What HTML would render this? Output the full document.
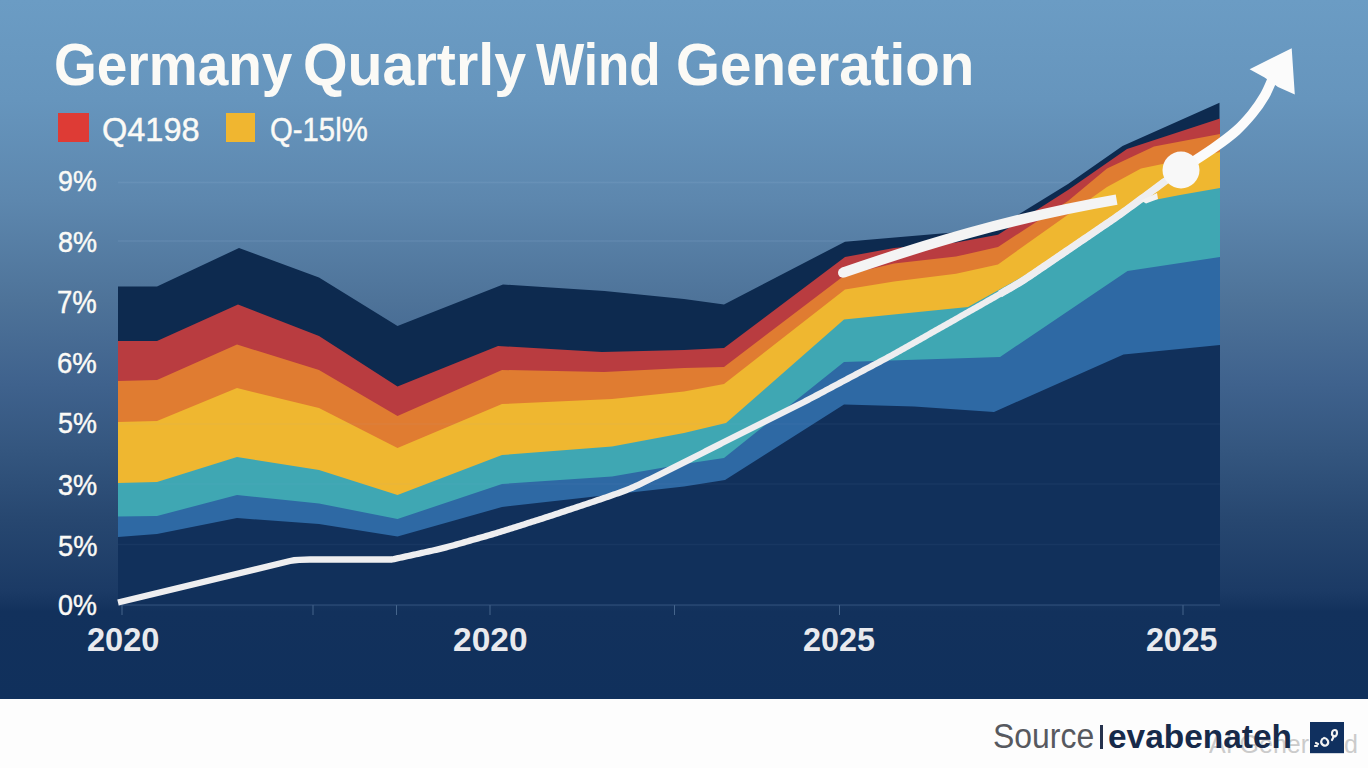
<!DOCTYPE html>
<html><head><meta charset="utf-8">
<style>
html,body{margin:0;padding:0;}
body{width:1368px;height:768px;overflow:hidden;position:relative;background:#fdfdfd;font-family:"Liberation Sans",sans-serif;}
#bg{position:absolute;left:0;top:0;width:1368px;height:699px;background:linear-gradient(to bottom,#6b9cc4 0px,#6695bd 100px,#5d87ae 200px,#4e7399 300px,#3f628d 384px,#34567f 450px,#274770 520px,#1b3a65 592px,#12315c 612px,#10305c 699px);}
svg{position:absolute;left:0;top:0;}
.t{position:absolute;white-space:nowrap;line-height:1;transform-origin:0 0;}
</style></head><body>
<div id="bg"></div>
<svg width="1368" height="768" viewBox="0 0 1368 768">
<g stroke="#a9c6e4" stroke-opacity="0.12" stroke-width="1.3"><line x1="118" y1="182.5" x2="1220" y2="182.5"/><line x1="118" y1="241" x2="1220" y2="241"/></g>
<polygon fill="#0d2a4f" points="118,286.5 157,286.5 239,248 319,277.5 397.5,326 503,284.5 604.5,291 684,299 724,304.5 845,241.7 956,232.3 1000,226 1068,184 1122.5,146 1219.5,102.8 1220,605 118,605"/>
<polygon fill="#b93c40" points="118,341 157,341 238,304.5 319,336 397.5,386.5 498,346 602,352 684,350 724,348 845,257 894,248 956,242.5 998,234.7 1068,190 1127,149 1220,118.4 1220,605 118,605"/>
<polygon fill="#e07c31" points="118,381 157,380 237,344.5 319,370 397.5,416 502,370 604,372 684,368 724,367 845,275 894,263.6 956,256.6 998,247 1068,201 1107,168.4 1154,146.6 1220,134 1220,605 118,605"/>
<polygon fill="#efb730" points="118,422 157,421 237,388 319,408 397.5,448 502,404 612,399 684,391.5 724,384 845,289.4 894,281.6 956,273.75 998,264.4 1107,187 1141,168.4 1220,152 1220,605 118,605"/>
<polygon fill="#3fa7b3" points="118,483 157,482 237,457 319,470 397.5,495 502,455 612,446.5 684,433 726,423 844,319.5 968,307 1040,267 1127,207 1140,202.8 1180,195 1220,188 1220,605 118,605"/>
<polygon fill="#2e69a4" points="118,516.5 157,516 237,495 319,503.5 397.5,519 502,484 612,476.5 684,464 724,458 844,362 1000,357 1127.5,271 1220,257 1220,605 118,605"/>
<polygon fill="#11305b" points="118,537 157,534 237,518 319,524 397.5,536.5 502,507 684,486.5 725,480 844,404.5 914,406.5 994,412 1123.5,354.5 1220,345 1220,605 118,605"/>
<g stroke="#9ab8d8" stroke-opacity="0.055" stroke-width="1.3"><line x1="118" y1="424" x2="1220" y2="424"/><line x1="118" y1="484" x2="1220" y2="484"/><line x1="118" y1="544.5" x2="1220" y2="544.5"/></g>
<g stroke="#6f8fb5" stroke-opacity="0.55" stroke-width="1"><line x1="122" y1="605" x2="122" y2="615"/><line x1="313" y1="605" x2="313" y2="615"/><line x1="396.5" y1="605" x2="396.5" y2="615"/><line x1="490" y1="605" x2="490" y2="615"/><line x1="674.5" y1="605" x2="674.5" y2="615"/><line x1="839.5" y1="605" x2="839.5" y2="615"/><line x1="1183" y1="605" x2="1183" y2="615"/></g>
<line x1="118" y1="605" x2="1220" y2="605" stroke="#3d5d88" stroke-opacity="0.8" stroke-width="1.2"/>
<path d="M118,602.5 L290,561 Q298,559.5 310,559.5 L392,559.5 L392,559.50 L394,559.06 L396,558.62 L398,558.18 L400,557.75 L402,557.31 L404,556.87 L406,556.43 L408,555.99 L410,555.55 L412,555.11 L414,554.67 L416,554.24 L418,553.80 L420,553.36 L422,552.92 L424,552.48 L426,552.04 L428,551.60 L430,551.16 L432,550.71 L434,550.26 L436,549.81 L438,549.34 L440,548.86 L442,548.37 L444,547.87 L446,547.35 L448,546.82 L450,546.27 L452,545.72 L454,545.17 L456,544.61 L458,544.04 L460,543.48 L462,542.91 L464,542.35 L466,541.78 L468,541.22 L470,540.65 L472,540.09 L474,539.52 L476,538.96 L478,538.39 L480,537.82 L482,537.26 L484,536.69 L486,536.12 L488,535.55 L490,534.97 L492,534.38 L494,533.79 L496,533.19 L498,532.59 L500,531.97 L502,531.35 L504,530.73 L506,530.10 L508,529.46 L510,528.83 L512,528.20 L514,527.56 L516,526.93 L518,526.29 L520,525.66 L522,525.02 L524,524.39 L526,523.75 L528,523.12 L530,522.48 L532,521.85 L534,521.21 L536,520.58 L538,519.94 L540,519.30 L542,518.66 L544,518.02 L546,517.37 L548,516.73 L550,516.07 L552,515.42 L554,514.76 L556,514.10 L558,513.44 L560,512.77 L562,512.11 L564,511.44 L566,510.78 L568,510.11 L570,509.45 L572,508.78 L574,508.12 L576,507.45 L578,506.79 L580,506.12 L582,505.45 L584,504.79 L586,504.12 L588,503.46 L590,502.79 L592,502.12 L594,501.45 L596,500.78 L598,500.10 L600,499.42 L602,498.74 L604,498.06 L606,497.37 L608,496.67 L610,495.98 L612,495.28 L614,494.58 L616,493.88 L618,493.17 L620,492.46 L622,491.73 L624,490.99 L626,490.23 L628,489.44 L630,488.61 L632,487.76 L634,486.88 L636,485.96 L638,485.03 L640,484.08 L642,483.12 L644,482.15 L646,481.18 L648,480.20 L650,479.23 L652,478.25 L654,477.27 L656,476.30 L658,475.32 L660,474.34 L662,473.36 L664,472.38 L666,471.40 L668,470.42 L670,469.43 L672,468.44 L674,467.44 L676,466.44 L678,465.43 L680,464.42 L682,463.41 L684,462.39 L686,461.37 L688,460.35 L690,459.33 L692,458.31 L694,457.29 L696,456.27 L698,455.25 L700,454.23 L702,453.21 L704,452.19 L706,451.17 L708,450.15 L710,449.13 L712,448.12 L714,447.10 L716,446.09 L718,445.08 L720,444.07 L722,443.06 L724,442.05 L726,441.05 L728,440.05 L730,439.04 L732,438.04 L734,437.04 L736,436.04 L738,435.04 L740,434.04 L742,433.04 L744,432.04 L746,431.03 L748,430.03 L750,429.03 L752,428.03 L754,427.03 L756,426.03 L758,425.03 L760,424.03 L762,423.02 L764,422.02 L766,421.02 L768,420.02 L770,419.02 L772,418.02 L774,417.02 L776,416.02 L778,415.02 L780,414.01 L782,413.01 L784,412.01 L786,411.01 L788,410.01 L790,409.01 L792,408.01 L794,407.00 L796,406.00 L798,404.99 L800,403.98 L802,402.96 L804,401.93 L806,400.90 L808,399.86 L810,398.82 L812,397.77 L814,396.71 L816,395.66 L818,394.60 L820,393.53 L822,392.47 L824,391.41 L826,390.34 L828,389.28 L830,388.22 L832,387.15 L834,386.09 L836,385.02 L838,383.96 L840,382.90 L842,381.83 L844,380.77 L846,379.71 L848,378.64 L850,377.58 L852,376.51 L854,375.45 L856,374.39 L858,373.32 L860,372.26 L862,371.19 L864,370.13 L866,369.07 L868,368.00 L870,366.94 L872,365.88 L874,364.81 L876,363.75 L878,362.68 L880,361.62 L882,360.55 L884,359.48 L886,358.41 L888,357.33 L890,356.25 L892,355.16 L894,354.06 L896,352.96 L898,351.84 L900,350.72 L902,349.60 L904,348.47 L906,347.34 L908,346.21 L910,345.08 L912,343.95 L914,342.81 L916,341.68 L918,340.55 L920,339.41 L922,338.28 L924,337.15 L926,336.01 L928,334.88 L930,333.75 L932,332.61 L934,331.48 L936,330.35 L938,329.21 L940,328.08 L942,326.94 L944,325.81 L946,324.68 L948,323.54 L950,322.41 L952,321.28 L954,320.14 L956,319.01 L958,317.88 L960,316.74 L962,315.61 L964,314.48 L966,313.34 L968,312.21 L970,311.08 L972,309.94 L974,308.81 L976,307.67 L978,306.53 L980,305.40 L982,304.26 L984,303.12 L986,301.98 L988,300.83 L990,299.69 L992,298.55 L994,297.40 L996,296.26 L998,295.12 L1000,293.97 L1002,292.83 L1004,291.68 L1006,290.54 L1008,289.39 L1010,288.24 L1012,287.08 L1014,285.91 L1016,284.73 L1018,283.53 L1020,282.31 L1022,281.07 L1024,279.80 L1026,278.51 L1028,277.20 L1030,275.87 L1032,274.53 L1034,273.18 L1036,271.82 L1038,270.46 L1040,269.10 L1042,267.74 L1044,266.37 L1046,265.01 L1048,263.65 L1050,262.29 L1052,260.92 L1054,259.56 L1056,258.20 L1058,256.84 L1060,255.47 L1062,254.11 L1064,252.75 L1066,251.38 L1068,250.02 L1070,248.66 L1072,247.30 L1074,245.93 L1076,244.57 L1078,243.21 L1080,241.85 L1082,240.48 L1084,239.12 L1086,237.76 L1088,236.39 L1090,235.03 L1092,233.67 L1094,232.31 L1096,230.94 L1098,229.58 L1100,228.22 L1102,226.85 L1104,225.49 L1106,224.13 L1108,222.76 L1110,221.39 L1112,220.01 L1114,218.63 L1116,217.24 L1118,215.83 L1120,214.41 L1122,212.98 L1124,211.54 L1126,210.09 L1128,208.63 L1130,207.16 L1132,205.69 L1134,204.21 L1136,202.74 L1138,201.26 L1140,199.78 L1142,198.31 L1144,196.83 L1146,195.35 L1148,193.87 L1150,192.40 L1152,190.92 L1154,189.44 L1156,187.97 L1158,186.49 L1160,185.01 L1162,183.53 L1164,182.06 L1166,180.58 L1168,179.10 L1170,177.63 L1172,176.15 L1174,174.67 L1176,173.19 L1178,171.72 L1180,170.24" fill="none" stroke="#eeeef0" stroke-width="6.3" stroke-linecap="butt" stroke-linejoin="round"/>
<path d="M1000,293.97 L1002,292.83 L1004,291.68 L1006,290.54 L1008,289.39 L1010,288.24 L1012,287.08 L1014,285.91 L1016,284.73 L1018,283.53 L1020,282.31 L1022,281.07 L1024,279.80 L1026,278.51 L1028,277.20 L1030,275.87 L1032,274.53 L1034,273.18 L1036,271.82 L1038,270.46 L1040,269.10 L1042,267.74 L1044,266.37 L1046,265.01 L1048,263.65 L1050,262.29 L1052,260.92 L1054,259.56 L1056,258.20 L1058,256.84 L1060,255.47 L1062,254.11 L1064,252.75 L1066,251.38 L1068,250.02 L1070,248.66 L1072,247.30 L1074,245.93 L1076,244.57 L1078,243.21 L1080,241.85 L1082,240.48 L1084,239.12 L1086,237.76 L1088,236.39 L1090,235.03 L1092,233.67 L1094,232.31 L1096,230.94 L1098,229.58 L1100,228.22 L1102,226.85 L1104,225.49 L1106,224.13 L1108,222.76 L1110,221.39 L1112,220.01 L1114,218.63 L1116,217.24 L1118,215.83 L1120,214.41 L1122,212.98 L1124,211.54 L1126,210.09 L1128,208.63 L1130,207.16 L1132,205.69 L1134,204.21 L1136,202.74 L1138,201.26 L1140,199.78 L1142,198.31 L1144,196.83 L1146,195.35 L1148,193.87 L1150,192.40 L1152,190.92 L1154,189.44 L1156,187.97 L1158,186.49 L1160,185.01 L1162,183.53 L1164,182.06 L1166,180.58 L1168,179.10 L1170,177.63 L1172,176.15 L1174,174.67 L1176,173.19 L1178,171.72 L1180,170.24" fill="none" stroke="#eeeef0" stroke-width="7.3" stroke-linejoin="round"/>
<polygon fill="#f2f2f2" points="1141,200.5 1157,193 1158,199 1146,203.5"/>
<path d="M843,272.7 C920,246 1010,218 1116.6,199.7" fill="none" stroke="#f4f4f4" stroke-width="10.4" stroke-linecap="butt"/>
<circle cx="843" cy="272.7" r="5" fill="#f4f4f4"/>
<path d="M1181,169.5 C1186.3,166.0 1203.8,154.9 1213,148.5 C1222.2,142.1 1229.5,136.8 1236,131 C1242.5,125.2 1247.2,119.8 1252,114 C1256.8,108.2 1261.2,101.7 1264.5,96 C1267.8,90.3 1270.8,82.7 1272,80" fill="none" stroke="#fbfbfb" stroke-width="9.8"/>
<polygon fill="#fbfbfb" points="1291.7,48.3 1249.6,69.2 1264.6,77.5 1278,86.9 1294.8,94.6"/>
<circle cx="1181" cy="170" r="18.5" fill="#f8f8f8"/>
</svg>
<div style="position:absolute;left:58.4px;top:113.4px;width:30.2px;height:29px;background:#de3b35;"></div>
<div style="position:absolute;left:226.1px;top:113.4px;width:29.4px;height:29px;background:#f0b630;"></div>
<div class="t" style="left:54.15px;top:34.99px;font-size:59.42px;font-weight:bold;color:#fbfaf6;transform:scaleX(0.9255);">Germany</div>
<div class="t" style="left:303.07px;top:34.99px;font-size:59.42px;font-weight:bold;color:#fbfaf6;transform:scaleX(0.9651);">Quartrly</div>
<div class="t" style="left:536.00px;top:34.99px;font-size:59.42px;font-weight:bold;color:#fbfaf6;transform:scaleX(0.8617);">Wind</div>
<div class="t" style="left:676.10px;top:34.99px;font-size:59.42px;font-weight:bold;color:#fbfaf6;transform:scaleX(0.9513);">Generation</div>
<div class="t" style="left:102.34px;top:112.99px;font-size:33.19px;font-weight:normal;color:#fbfaf6;transform:scaleX(0.9802);-webkit-text-stroke:0.45px #fbfaf6;">Q4198</div>
<div class="t" style="left:269.73px;top:112.99px;font-size:33.19px;font-weight:normal;color:#fbfaf6;transform:scaleX(0.8832);-webkit-text-stroke:0.45px #fbfaf6;">Q-15l%</div>
<div class="t" style="left:58.02px;top:166.15px;font-size:30.29px;font-weight:normal;color:#fbfaf6;transform:scaleX(0.8833);-webkit-text-stroke:0.45px #fbfaf6;">9%</div>
<div class="t" style="left:57.97px;top:227.64px;font-size:29.13px;font-weight:normal;color:#fbfaf6;transform:scaleX(0.9275);-webkit-text-stroke:0.45px #fbfaf6;">8%</div>
<div class="t" style="left:57.09px;top:287.13px;font-size:30.43px;font-weight:normal;color:#fbfaf6;transform:scaleX(0.9049);-webkit-text-stroke:0.45px #fbfaf6;">7%</div>
<div class="t" style="left:57.05px;top:348.25px;font-size:29.71px;font-weight:normal;color:#fbfaf6;transform:scaleX(0.9275);-webkit-text-stroke:0.45px #fbfaf6;">6%</div>
<div class="t" style="left:57.97px;top:409.36px;font-size:28.99px;font-weight:normal;color:#fbfaf6;transform:scaleX(0.9275);-webkit-text-stroke:0.45px #fbfaf6;">5%</div>
<div class="t" style="left:57.97px;top:469.81px;font-size:29.28px;font-weight:normal;color:#fbfaf6;transform:scaleX(0.9275);-webkit-text-stroke:0.45px #fbfaf6;">3%</div>
<div class="t" style="left:57.97px;top:530.79px;font-size:29.42px;font-weight:normal;color:#fbfaf6;transform:scaleX(0.9275);-webkit-text-stroke:0.45px #fbfaf6;">5%</div>
<div class="t" style="left:57.97px;top:591.36px;font-size:28.99px;font-weight:normal;color:#fbfaf6;transform:scaleX(0.9275);-webkit-text-stroke:0.45px #fbfaf6;">0%</div>
<div class="t" style="left:87.01px;top:623.22px;font-size:33.04px;font-weight:bold;color:#e9eaee;transform:scaleX(0.9859);">2020</div>
<div class="t" style="left:452.99px;top:623.22px;font-size:33.04px;font-weight:bold;color:#e9eaee;transform:scaleX(1.0141);">2020</div>
<div class="t" style="left:803.02px;top:623.22px;font-size:33.04px;font-weight:bold;color:#e9eaee;transform:scaleX(0.9792);">2025</div>
<div class="t" style="left:1146.03px;top:623.22px;font-size:33.04px;font-weight:bold;color:#e9eaee;transform:scaleX(0.9722);">2025</div>
<div class="t" style="left:1208.70px;top:730.78px;font-size:26.38px;font-weight:normal;color:#cbcbcb;transform:scaleX(0.9484);">AI Generated</div>
<div class="t" style="left:993.27px;top:719.11px;font-size:34.93px;font-weight:normal;color:#57595f;transform:scaleX(0.9140);">Source</div>
<div class="t" style="left:1107.79px;top:720.22px;font-size:33.04px;font-weight:bold;color:#172a4a;transform:scaleX(1.0123);">evabenateh</div>
<div style="position:absolute;left:1099.6px;top:725.2px;width:3.8px;height:23.6px;background:#26324d;"></div>
<svg style="position:absolute;left:1310px;top:722.4px;" width="34" height="31.2" viewBox="0 0 34 31.2"><rect width="34" height="31.2" fill="#10305f"/>
<g fill="none" stroke="#f2f2f2" stroke-width="2.2" stroke-linecap="round"><path d="M14,16 C11,17 10,21 13,23 C16,25 19,22 18,19 C17,17 15,16 14,16"/><path d="M25,8 C22,8 21,12 23,14 C25,15 27,14 27,11 C27,9 26,8 25,8 M24,14 L22,18"/><path d="M6,21 L8,22 M5,24 L7,24"/></g></svg>
</body></html>
